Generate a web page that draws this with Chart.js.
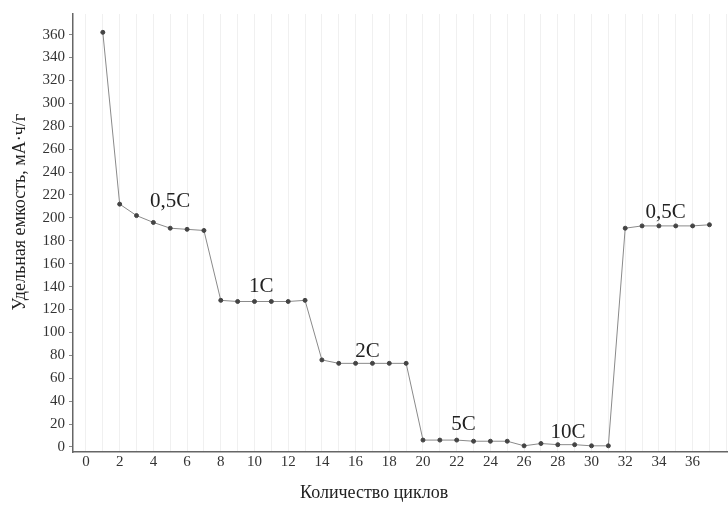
<!DOCTYPE html>
<html>
<head>
<meta charset="utf-8">
<script src="https://cdn.jsdelivr.net/npm/chart.js@4"></script>
<style>
  html, body { margin: 0; padding: 0; background: #fff; }
  #wrap { width: 728px; height: 506px; }
</style>
</head>
<body>
<div id="wrap"><canvas id="chart"></canvas></div>
<script>
const cycles = [];
for (let i = 1; i <= 37; i++) cycles.push(i);
const capacity = [362, 212, 202, 196, 191, 190, 189,
  128, 127, 127, 127, 127, 128,
  76, 73, 73, 73, 73, 73,
  6, 6, 6, 5, 5, 5,
  1, 3, 2, 2, 1, 1,
  191, 193, 193, 193, 193, 194];
const rateLabels = ['0,5C', '1C', '2C', '5C', '10C', '0,5C'];
const rateLabelX = [5.0, 10.4, 16.7, 22.4, 28.6, 34.4];
const rateLabelY = [214, 140, 83, 20, 13, 205];
const yTitle = 'Удельная емкость, мА·ч/г';
const xTitle = 'Количество циклов';

const serif = '"Liberation Serif", "DejaVu Serif", serif';

// C-rate labels at data positions + both axis titles (off-centre in the original)
const textPlugin = {
  id: 'texts',
  afterDatasetsDraw(chart) {
    const { ctx, scales } = chart;
    ctx.save();
    ctx.font = '21px ' + serif;
    ctx.fillStyle = '#222';
    ctx.textAlign = 'center';
    ctx.textBaseline = 'middle';
    rateLabels.forEach((t, i) => {
      ctx.fillText(t, scales.x.getPixelForValue(rateLabelX[i]), scales.y.getPixelForValue(rateLabelY[i]));
    });
    ctx.font = '18px ' + serif;
    ctx.fillText(xTitle, scales.x.getPixelForValue(17.1), 493);
    ctx.translate(20, scales.y.getPixelForValue(205));
    ctx.rotate(-Math.PI / 2);
    ctx.fillText(yTitle, 0, 0);
    ctx.restore();
  }
};

new Chart(document.getElementById('chart'), {
  type: 'line',
  data: {
    datasets: [{
      data: cycles.map((c, i) => ({ x: c, y: capacity[i] })),
      borderColor: '#8a8a8a',
      borderWidth: 1,
      pointRadius: 2,
      pointBackgroundColor: '#444',
      pointBorderColor: '#444',
      tension: 0
    }]
  },
  options: {
    responsive: true,
    maintainAspectRatio: false,
    animation: false,
    layout: { autoPadding: false, padding: { top: 14, right: 0, left: 0, bottom: 0 } },
    plugins: { legend: { display: false }, tooltip: { enabled: false } },
    scales: {
      x: {
        type: 'linear',
        min: -0.77,
        max: 38.1,
        afterFit(scale) { scale.height = 54; },
        ticks: {
          stepSize: 1,
          autoSkip: false,
          includeBounds: false,
          maxRotation: 0,
          padding: 1,
          color: '#333',
          font: { family: serif, size: 15 },
          callback: v => (v % 2 === 0 && v <= 36) ? String(v) : ''
        },
        grid: { color: 'rgba(0,0,0,0.06)', drawTicks: false },
        border: { color: '#666', width: 1.5 },
        title: { display: false }
      },
      y: {
        min: -4.4,
        max: 378,
        afterFit(scale) { scale.width = 73; },
        afterBuildTicks(scale) {
          const t = [];
          for (let v = 0; v <= 360; v += 20) t.push({ value: v });
          scale.ticks = t;
        },
        ticks: {
          padding: 4,
          color: '#333',
          font: { family: serif, size: 15 }
        },
        grid: { drawOnChartArea: false, tickLength: 4, color: '#888' },
        border: { color: '#666', width: 1.5 },
        title: { display: false }
      }
    }
  },
  plugins: [textPlugin]
});
</script>
</body>
</html>
